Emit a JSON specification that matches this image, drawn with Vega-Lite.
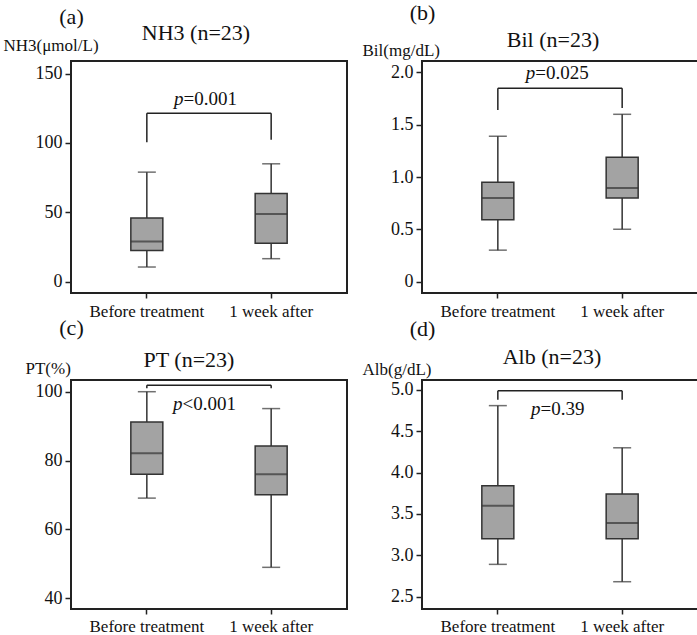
{
  "$schema": "https://vega.github.io/schema/vega-lite/v6.json",
  "padding": {"left": 2, "top": 0, "right": 0, "bottom": 0},
  "autosize": {"type": "pad"},
  "background": "white",
  "datasets": {
    "boxes": [
      {"panel": "a", "group": "Before treatment", "min": 10.7, "q1": 22.6, "median": 29, "q3": 46, "max": 79},
      {"panel": "a", "group": "1 week after", "min": 16.7, "q1": 27.9, "median": 48.8, "q3": 63.6, "max": 85},
      {"panel": "b", "group": "Before treatment", "min": 0.30, "q1": 0.59, "median": 0.80, "q3": 0.95, "max": 1.39},
      {"panel": "b", "group": "1 week after", "min": 0.50, "q1": 0.80, "median": 0.895, "q3": 1.19, "max": 1.60},
      {"panel": "c", "group": "Before treatment", "min": 69.1, "q1": 76, "median": 82.1, "q3": 91.2, "max": 100},
      {"panel": "c", "group": "1 week after", "min": 49, "q1": 70.1, "median": 76, "q3": 84.2, "max": 95.1},
      {"panel": "d", "group": "Before treatment", "min": 2.89, "q1": 3.20, "median": 3.60, "q3": 3.84, "max": 4.81},
      {"panel": "d", "group": "1 week after", "min": 2.68, "q1": 3.20, "median": 3.39, "q3": 3.74, "max": 4.30}
    ],
    "brackets": [
      {"panel": "a", "xa": "Before treatment", "xb": "1 week after", "ya": 121.4, "yb": 121.4},
      {"panel": "a", "xa": "Before treatment", "xb": "Before treatment", "ya": 121.4, "yb": 100.5},
      {"panel": "a", "xa": "1 week after", "xb": "1 week after", "ya": 121.4, "yb": 102.4},
      {"panel": "b", "xa": "Before treatment", "xb": "1 week after", "ya": 1.85, "yb": 1.85},
      {"panel": "b", "xa": "Before treatment", "xb": "Before treatment", "ya": 1.85, "yb": 1.64},
      {"panel": "b", "xa": "1 week after", "xb": "1 week after", "ya": 1.85, "yb": 1.66},
      {"panel": "c", "xa": "Before treatment", "xb": "1 week after", "ya": 101.9, "yb": 101.9},
      {"panel": "c", "xa": "Before treatment", "xb": "Before treatment", "ya": 101.9, "yb": 101.0},
      {"panel": "c", "xa": "1 week after", "xb": "1 week after", "ya": 101.9, "yb": 101.0},
      {"panel": "d", "xa": "Before treatment", "xb": "1 week after", "ya": 4.99, "yb": 4.99},
      {"panel": "d", "xa": "Before treatment", "xb": "Before treatment", "ya": 4.99, "yb": 4.88},
      {"panel": "d", "xa": "1 week after", "xb": "1 week after", "ya": 4.99, "yb": 4.88}
    ],
    "ptext": [
      {"panel": "a", "p": "p", "rest": "=0.001", "y": 127.4},
      {"panel": "b", "p": "p", "rest": "=0.025", "y": 1.94},
      {"panel": "c", "p": "p", "rest": "<0.001", "y": 94.6},
      {"panel": "d", "p": "p", "rest": "=0.39", "y": 4.70}
    ]
  },
  "vconcat": [
    {
      "hconcat": [
        {
          "width": 276, "height": 232,
          "title": {"text": "NH3 (n=23)", "offset": -40, "dx": -13},
          "layer": [
            {"data": {"name": "boxes"}, "transform": [{"filter": "datum.panel === 'a'"}],
             "mark": {"type": "rule", "color": "#333", "strokeWidth": 1.5},
             "encoding": {
               "x": {"field": "group", "type": "nominal", "title": "(a)", "scale": {"domain": ["Before treatment", "1 week after"], "paddingInner": 0.8, "paddingOuter": 0.51},
                     "axis": {"titleY": -277}},
               "y": {"field": "min", "type": "quantitative", "title": "NH3(μmol/L)", "scale": {"domain": [-8, 159], "nice": false, "zero": false},
                     "axis": {"titleX": -68, "titleY": -11, "values": [0, 50, 100, 150]}},
               "y2": {"field": "max"}}},
            {"data": {"name": "boxes"}, "transform": [{"filter": "datum.panel === 'a'"}],
             "mark": {"type": "bar", "size": 32, "fill": "#a3a3a3", "stroke": "#333", "strokeWidth": 1.5},
             "encoding": {
               "x": {"field": "group", "type": "nominal", "title": "(a)"},
               "y": {"field": "q3", "type": "quantitative", "title": "NH3(μmol/L)"},
               "y2": {"field": "q1"}}},
            {"data": {"name": "boxes"}, "transform": [{"filter": "datum.panel === 'a'"}],
             "mark": {"type": "tick", "size": 32, "thickness": 2, "color": "#333"},
             "encoding": {
               "x": {"field": "group", "type": "nominal", "title": "(a)"},
               "y": {"field": "median", "type": "quantitative", "title": "NH3(μmol/L)"}}},
            {"data": {"name": "boxes"}, "transform": [{"filter": "datum.panel === 'a'"}],
             "mark": {"type": "tick", "size": 18, "thickness": 1.5, "color": "#333"},
             "encoding": {
               "x": {"field": "group", "type": "nominal", "title": "(a)"},
               "y": {"field": "min", "type": "quantitative", "title": "NH3(μmol/L)"}}},
            {"data": {"name": "boxes"}, "transform": [{"filter": "datum.panel === 'a'"}],
             "mark": {"type": "tick", "size": 18, "thickness": 1.5, "color": "#333"},
             "encoding": {
               "x": {"field": "group", "type": "nominal", "title": "(a)"},
               "y": {"field": "max", "type": "quantitative", "title": "NH3(μmol/L)"}}},
            {"data": {"name": "brackets"}, "transform": [{"filter": "datum.panel === 'a'"}],
             "mark": {"type": "rule", "color": "#222", "strokeWidth": 1.5},
             "encoding": {
               "x": {"field": "xa", "type": "nominal", "title": "(a)"},
               "x2": {"field": "xb"},
               "y": {"field": "ya", "type": "quantitative", "title": "NH3(μmol/L)"},
               "y2": {"field": "yb"}}},
            {"data": {"name": "ptext"}, "transform": [{"filter": "datum.panel === 'a'"}],
             "mark": {"type": "text", "font": "Liberation Serif", "fontSize": 19, "fontStyle": "italic", "align": "right", "baseline": "alphabetic", "dx": -25.5, "color": "#111"},
             "encoding": {"y": {"field": "y", "type": "quantitative", "title": "NH3(μmol/L)"}, "text": {"field": "p"}}},
            {"data": {"name": "ptext"}, "transform": [{"filter": "datum.panel === 'a'"}],
             "mark": {"type": "text", "font": "Liberation Serif", "fontSize": 19, "align": "left", "baseline": "alphabetic", "dx": -25.5, "color": "#111"},
             "encoding": {"y": {"field": "y", "type": "quantitative", "title": "NH3(μmol/L)"}, "text": {"field": "rest"}}}
          ]
        },
        {
          "width": 276, "height": 232,
          "title": {"text": "Bil (n=23)", "offset": -51, "dx": -7},
          "layer": [
            {"data": {"name": "boxes"}, "transform": [{"filter": "datum.panel === 'b'"}],
             "mark": {"type": "rule", "color": "#333", "strokeWidth": 1.5},
             "encoding": {
               "x": {"field": "group", "type": "nominal", "title": "(b)", "scale": {"domain": ["Before treatment", "1 week after"], "paddingInner": 0.8, "paddingOuter": 0.51},
                     "axis": {"titleY": -281}},
               "y": {"field": "min", "type": "quantitative", "title": "Bil(mg/dL)", "scale": {"domain": [-0.11, 2.11], "nice": false, "zero": false},
                     "axis": {"titleX": -60, "titleY": -6, "values": [0, 0.5, 1, 1.5, 2], "labelExpr": "datum.value === 0 ? '0' : format(datum.value, '.1f')"}},
               "y2": {"field": "max"}}},
            {"data": {"name": "boxes"}, "transform": [{"filter": "datum.panel === 'b'"}],
             "mark": {"type": "bar", "size": 32, "fill": "#a3a3a3", "stroke": "#333", "strokeWidth": 1.5},
             "encoding": {
               "x": {"field": "group", "type": "nominal", "title": "(b)"},
               "y": {"field": "q3", "type": "quantitative", "title": "Bil(mg/dL)"},
               "y2": {"field": "q1"}}},
            {"data": {"name": "boxes"}, "transform": [{"filter": "datum.panel === 'b'"}],
             "mark": {"type": "tick", "size": 32, "thickness": 2, "color": "#333"},
             "encoding": {
               "x": {"field": "group", "type": "nominal", "title": "(b)"},
               "y": {"field": "median", "type": "quantitative", "title": "Bil(mg/dL)"}}},
            {"data": {"name": "boxes"}, "transform": [{"filter": "datum.panel === 'b'"}],
             "mark": {"type": "tick", "size": 18, "thickness": 1.5, "color": "#333"},
             "encoding": {
               "x": {"field": "group", "type": "nominal", "title": "(b)"},
               "y": {"field": "min", "type": "quantitative", "title": "Bil(mg/dL)"}}},
            {"data": {"name": "boxes"}, "transform": [{"filter": "datum.panel === 'b'"}],
             "mark": {"type": "tick", "size": 18, "thickness": 1.5, "color": "#333"},
             "encoding": {
               "x": {"field": "group", "type": "nominal", "title": "(b)"},
               "y": {"field": "max", "type": "quantitative", "title": "Bil(mg/dL)"}}},
            {"data": {"name": "brackets"}, "transform": [{"filter": "datum.panel === 'b'"}],
             "mark": {"type": "rule", "color": "#222", "strokeWidth": 1.5},
             "encoding": {
               "x": {"field": "xa", "type": "nominal", "title": "(b)"},
               "x2": {"field": "xb"},
               "y": {"field": "ya", "type": "quantitative", "title": "Bil(mg/dL)"},
               "y2": {"field": "yb"}}},
            {"data": {"name": "ptext"}, "transform": [{"filter": "datum.panel === 'b'"}],
             "mark": {"type": "text", "font": "Liberation Serif", "fontSize": 19, "fontStyle": "italic", "align": "right", "baseline": "alphabetic", "dx": -24.8, "color": "#111"},
             "encoding": {"y": {"field": "y", "type": "quantitative", "title": "Bil(mg/dL)"}, "text": {"field": "p"}}},
            {"data": {"name": "ptext"}, "transform": [{"filter": "datum.panel === 'b'"}],
             "mark": {"type": "text", "font": "Liberation Serif", "fontSize": 19, "align": "left", "baseline": "alphabetic", "dx": -24.8, "color": "#111"},
             "encoding": {"y": {"field": "y", "type": "quantitative", "title": "Bil(mg/dL)"}, "text": {"field": "rest"}}}
          ]
        }
      ],
      "spacing": 13
    },
    {
      "hconcat": [
        {
          "width": 276, "height": 229,
          "title": {"text": "PT (n=23)", "offset": -55.5, "dx": -20},
          "layer": [
            {"data": {"name": "boxes"}, "transform": [{"filter": "datum.panel === 'c'"}],
             "mark": {"type": "rule", "color": "#333", "strokeWidth": 1.5},
             "encoding": {
               "x": {"field": "group", "type": "nominal", "title": "(c)", "scale": {"domain": ["Before treatment", "1 week after"], "paddingInner": 0.8, "paddingOuter": 0.51},
                     "axis": {"titleY": -282, "labelPadding": 4}},
               "y": {"field": "min", "type": "quantitative", "title": "PT(%)", "scale": {"domain": [36.9, 103.4], "nice": false, "zero": false},
                     "axis": {"titleX": -46, "titleY": -7, "values": [40, 50, 60, 70, 80, 90, 100], "labelOverlap": false}},
               "y2": {"field": "max"}}},
            {"data": {"name": "boxes"}, "transform": [{"filter": "datum.panel === 'c'"}],
             "mark": {"type": "bar", "size": 32, "fill": "#a3a3a3", "stroke": "#333", "strokeWidth": 1.5},
             "encoding": {
               "x": {"field": "group", "type": "nominal", "title": "(c)"},
               "y": {"field": "q3", "type": "quantitative", "title": "PT(%)"},
               "y2": {"field": "q1"}}},
            {"data": {"name": "boxes"}, "transform": [{"filter": "datum.panel === 'c'"}],
             "mark": {"type": "tick", "size": 32, "thickness": 2, "color": "#333"},
             "encoding": {
               "x": {"field": "group", "type": "nominal", "title": "(c)"},
               "y": {"field": "median", "type": "quantitative", "title": "PT(%)"}}},
            {"data": {"name": "boxes"}, "transform": [{"filter": "datum.panel === 'c'"}],
             "mark": {"type": "tick", "size": 18, "thickness": 1.5, "color": "#333"},
             "encoding": {
               "x": {"field": "group", "type": "nominal", "title": "(c)"},
               "y": {"field": "min", "type": "quantitative", "title": "PT(%)"}}},
            {"data": {"name": "boxes"}, "transform": [{"filter": "datum.panel === 'c'"}],
             "mark": {"type": "tick", "size": 18, "thickness": 1.5, "color": "#333"},
             "encoding": {
               "x": {"field": "group", "type": "nominal", "title": "(c)"},
               "y": {"field": "max", "type": "quantitative", "title": "PT(%)"}}},
            {"data": {"name": "brackets"}, "transform": [{"filter": "datum.panel === 'c'"}],
             "mark": {"type": "rule", "color": "#222", "strokeWidth": 1.5},
             "encoding": {
               "x": {"field": "xa", "type": "nominal", "title": "(c)"},
               "x2": {"field": "xb"},
               "y": {"field": "ya", "type": "quantitative", "title": "PT(%)"},
               "y2": {"field": "yb"}}},
            {"data": {"name": "ptext"}, "transform": [{"filter": "datum.panel === 'c'"}],
             "mark": {"type": "text", "font": "Liberation Serif", "fontSize": 19, "fontStyle": "italic", "align": "right", "baseline": "alphabetic", "dx": -26.5, "color": "#111"},
             "encoding": {"y": {"field": "y", "type": "quantitative", "title": "PT(%)"}, "text": {"field": "p"}}},
            {"data": {"name": "ptext"}, "transform": [{"filter": "datum.panel === 'c'"}],
             "mark": {"type": "text", "font": "Liberation Serif", "fontSize": 19, "align": "left", "baseline": "alphabetic", "dx": -26.5, "color": "#111"},
             "encoding": {"y": {"field": "y", "type": "quantitative", "title": "PT(%)"}, "text": {"field": "rest"}}}
          ]
        },
        {
          "width": 276, "height": 229,
          "title": {"text": "Alb (n=23)", "offset": -51.5, "dx": -8},
          "layer": [
            {"data": {"name": "boxes"}, "transform": [{"filter": "datum.panel === 'd'"}],
             "mark": {"type": "rule", "color": "#333", "strokeWidth": 1.5},
             "encoding": {
               "x": {"field": "group", "type": "nominal", "title": "(d)", "scale": {"domain": ["Before treatment", "1 week after"], "paddingInner": 0.8, "paddingOuter": 0.51},
                     "axis": {"titleY": -281, "labelPadding": 4}},
               "y": {"field": "min", "type": "quantitative", "title": "Alb(g/dL)", "scale": {"domain": [2.35, 5.12], "nice": false, "zero": false},
                     "axis": {"titleX": -60, "titleY": -6, "values": [2.5, 3, 3.5, 4, 4.5, 5], "format": ".1f", "labelOverlap": false}},
               "y2": {"field": "max"}}},
            {"data": {"name": "boxes"}, "transform": [{"filter": "datum.panel === 'd'"}],
             "mark": {"type": "bar", "size": 32, "fill": "#a3a3a3", "stroke": "#333", "strokeWidth": 1.5},
             "encoding": {
               "x": {"field": "group", "type": "nominal", "title": "(d)"},
               "y": {"field": "q3", "type": "quantitative", "title": "Alb(g/dL)"},
               "y2": {"field": "q1"}}},
            {"data": {"name": "boxes"}, "transform": [{"filter": "datum.panel === 'd'"}],
             "mark": {"type": "tick", "size": 32, "thickness": 2, "color": "#333"},
             "encoding": {
               "x": {"field": "group", "type": "nominal", "title": "(d)"},
               "y": {"field": "median", "type": "quantitative", "title": "Alb(g/dL)"}}},
            {"data": {"name": "boxes"}, "transform": [{"filter": "datum.panel === 'd'"}],
             "mark": {"type": "tick", "size": 18, "thickness": 1.5, "color": "#333"},
             "encoding": {
               "x": {"field": "group", "type": "nominal", "title": "(d)"},
               "y": {"field": "min", "type": "quantitative", "title": "Alb(g/dL)"}}},
            {"data": {"name": "boxes"}, "transform": [{"filter": "datum.panel === 'd'"}],
             "mark": {"type": "tick", "size": 18, "thickness": 1.5, "color": "#333"},
             "encoding": {
               "x": {"field": "group", "type": "nominal", "title": "(d)"},
               "y": {"field": "max", "type": "quantitative", "title": "Alb(g/dL)"}}},
            {"data": {"name": "brackets"}, "transform": [{"filter": "datum.panel === 'd'"}],
             "mark": {"type": "rule", "color": "#222", "strokeWidth": 1.5},
             "encoding": {
               "x": {"field": "xa", "type": "nominal", "title": "(d)"},
               "x2": {"field": "xb"},
               "y": {"field": "ya", "type": "quantitative", "title": "Alb(g/dL)"},
               "y2": {"field": "yb"}}},
            {"data": {"name": "ptext"}, "transform": [{"filter": "datum.panel === 'd'"}],
             "mark": {"type": "text", "font": "Liberation Serif", "fontSize": 19, "fontStyle": "italic", "align": "right", "baseline": "alphabetic", "dx": -19.5, "color": "#111"},
             "encoding": {"y": {"field": "y", "type": "quantitative", "title": "Alb(g/dL)"}, "text": {"field": "p"}}},
            {"data": {"name": "ptext"}, "transform": [{"filter": "datum.panel === 'd'"}],
             "mark": {"type": "text", "font": "Liberation Serif", "fontSize": 19, "align": "left", "baseline": "alphabetic", "dx": -19.5, "color": "#111"},
             "encoding": {"y": {"field": "y", "type": "quantitative", "title": "Alb(g/dL)"}, "text": {"field": "rest"}}}
          ]
        }
      ],
      "spacing": 13
    }
  ],
  "spacing": -5,
  "config": {
    "font": "Liberation Serif",
    "view": {"stroke": "#222", "strokeWidth": 2},
    "title": {"font": "Liberation Serif", "fontSize": 22, "fontWeight": "normal", "anchor": "middle", "frame": "group", "baseline": "alphabetic", "color": "#111"},
    "text": {"font": "Liberation Serif"},
    "axis": {"grid": false, "domain": false, "tickColor": "#222", "tickWidth": 1.5, "labelColor": "#111", "titleColor": "#111", "titleFontWeight": "normal", "labelFont": "Liberation Serif", "titleFont": "Liberation Serif"},
    "axisX": {"labelAngle": 0, "labelFontSize": 17, "tickSize": 5, "labelPadding": 5, "titleFontSize": 22, "titleAlign": "center", "titleBaseline": "middle", "titleX": 0},
    "axisY": {"labelFontSize": 18, "tickSize": 6, "labelPadding": 3, "titleAngle": 0, "titleAlign": "left", "titleBaseline": "alphabetic", "titleFontSize": 17}
  }
}
